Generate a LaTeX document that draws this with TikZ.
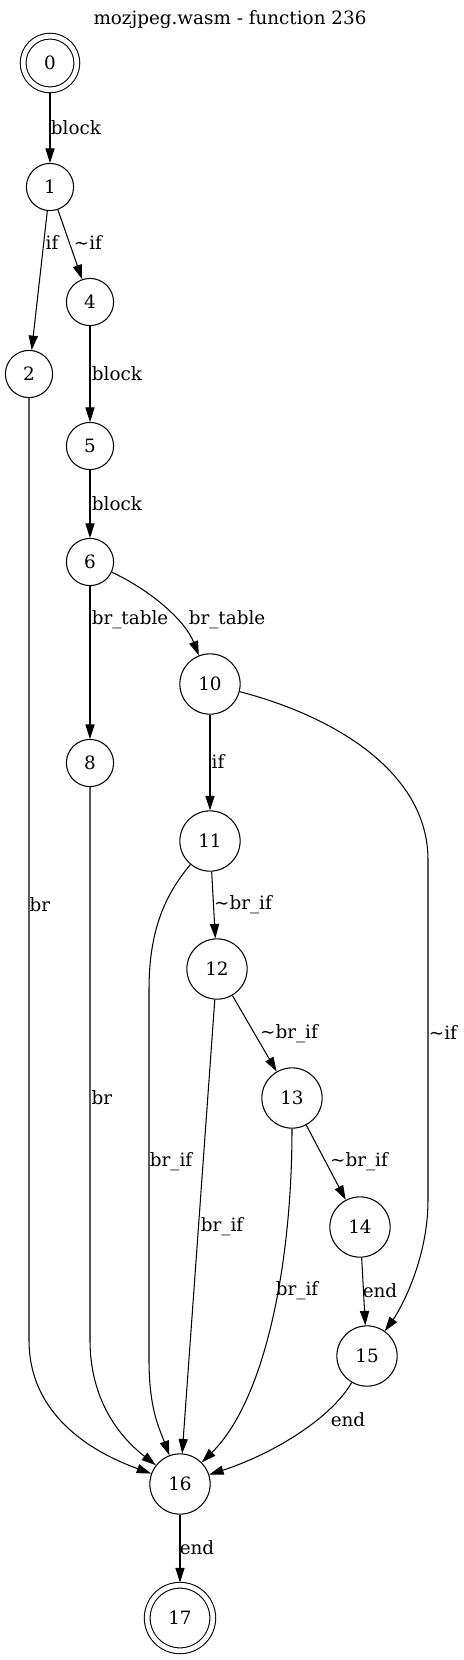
\documentclass[tikz,border=0pt]{standalone}
\usepackage{fontspec}
\setmainfont{DejaVu Serif}
\usetikzlibrary{arrows.meta}
\begin{document}
\begin{tikzpicture}[x=0.763pt,y=-0.763pt,
  every node/.style={font=\fontsize{14}{16}\selectfont},
  st/.style={circle,draw,line width=0.8pt,inner sep=0pt,minimum size=36pt},
  stw/.style={st,minimum size=46pt},
  fin/.style={circle,draw,line width=0.8pt,inner sep=0pt,double,double distance=3.6pt,outer sep=2.2pt},
  lbl/.style={inner sep=0pt,anchor=center},
  edge/.style={line width=0.8pt,-{Triangle[length=11pt,width=7pt]}}]
\useasboundingbox (0,0) rectangle (463,1660);
\node[lbl] (title) at (230,20) {mozjpeg.wasm - function 236};
\node[fin,minimum size=41pt] (n0) at (50,63) {0};
\node[st] (n1) at (50,187) {1};
\node[st] (n2) at (29,374) {2};
\node[st] (n4) at (90,302) {4};
\node[st] (n5) at (90,446) {5};
\node[st] (n6) at (90,562) {6};
\node[st] (n8) at (90,763) {8};
\node[stw] (n10) at (210,684) {10};
\node[stw] (n11) at (210,841) {11};
\node[stw] (n12) at (217,969) {12};
\node[stw] (n13) at (292,1098) {13};
\node[stw] (n14) at (360,1227) {14};
\node[stw] (n15) at (367,1356) {15};
\node[stw] (n16) at (180,1484) {16};
\node[fin,minimum size=50pt] (n17) at (180,1618) {17};

\draw[edge] (n0) -- (n1);
\draw[edge] (n1) -- (n2);
\draw[edge] (n1) -- (n4);
\draw[edge] (n4) -- (n5);
\draw[edge] (n5) -- (n6);
\draw[edge] (n6) -- (n8);
\draw[edge] (n6) .. controls (150,590) and (185,620) .. (n10);
\draw[edge] (n10) -- (n11);
\draw[edge] (n10) .. controls (330,715) and (428,770) .. (428,860) -- (428,1200) .. controls (428,1260) and (400,1310) .. (n15);
\draw[edge] (n11) -- (n12);
\draw[edge] (n11) .. controls (165,895) and (149,930) .. (149,990) -- (149,1360) .. controls (149,1410) and (160,1430) .. (n16);
\draw[edge] (n12) -- (n13);
\draw[edge] (n12) -- (n16);
\draw[edge] (n13) -- (n14);
\draw[edge] (n13) .. controls (292,1265) and (265,1400) .. (n16);
\draw[edge] (n14) -- (n15);
\draw[edge] (n15) .. controls (330,1420) and (270,1455) .. (n16);
\draw[edge] (n2) -- (29,1340) .. controls (29,1420) and (100,1455) .. (n16);
\draw[edge] (n8) -- (90,1340) .. controls (90,1410) and (130,1445) .. (n16);
\draw[edge] (n16) -- (n17);

\node[lbl] (l01) at (76,128) {block};
\node[lbl] (l12) at (52,243) {if};
\node[lbl] (l14) at (88,243) {\textasciitilde if};
\node[lbl] (l45) at (117,374) {block};
\node[lbl] (l56) at (117,504) {block};
\node[lbl] (l68) at (130,620) {br\_table};
\node[lbl] (l610) at (227,620) {br\_table};
\node[lbl] (l1011) at (218,762) {if};
\node[lbl] (l1112) at (243,905) {\textasciitilde br\_if};
\node[lbl] (l216) at (40,905) {br};
\node[lbl] (l1015) at (443,1033) {\textasciitilde if};
\node[lbl] (l1213) at (289,1034) {\textasciitilde br\_if};
\node[lbl] (l816) at (102,1098) {br};
\node[lbl] (l1116) at (171,1162) {br\_if};
\node[lbl] (l1314) at (359,1162) {\textasciitilde br\_if};
\node[lbl] (l1216) at (222,1227) {br\_if};
\node[lbl] (l1316) at (297,1291) {br\_if};
\node[lbl] (l1415) at (380,1291) {end};
\node[lbl] (l1516) at (348,1420) {end};
\node[lbl] (l1617) at (197,1548) {end};
\end{tikzpicture}
\end{document}
